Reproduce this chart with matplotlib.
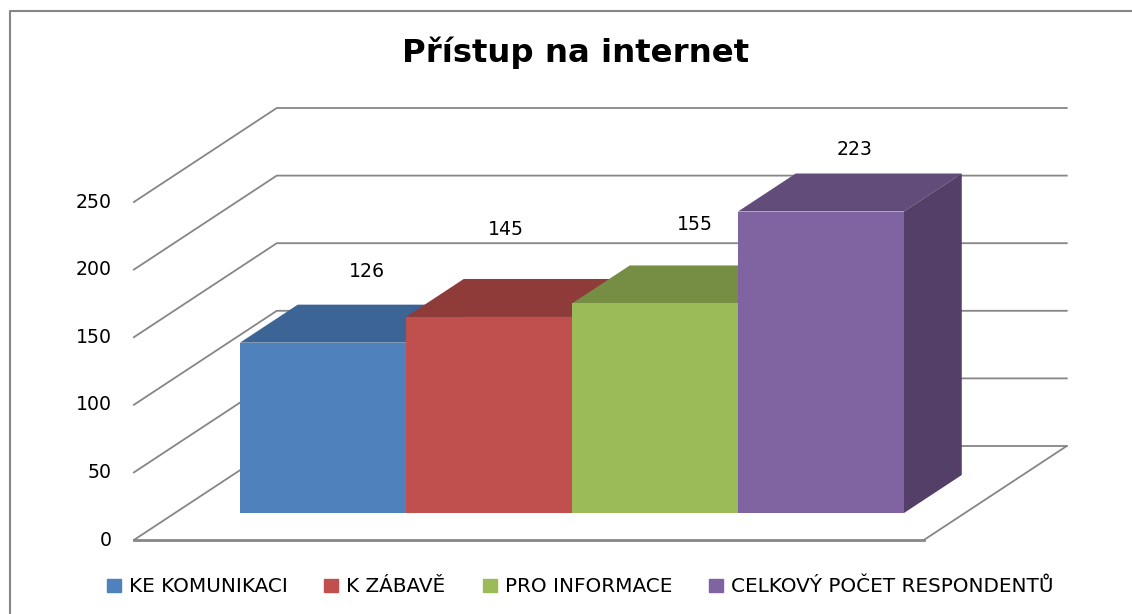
import matplotlib
matplotlib.use('Agg')
import matplotlib.pyplot as plt
from matplotlib.lines import Line2D
from matplotlib.patches import Patch, Polygon

categories = ['KE KOMUNIKACI', 'K ZÁBAVĚ', 'PRO INFORMACE', 'CELKOVÝ POČET RESPONDENTŮ']
values = [126, 145, 155, 223]
y_ticks = [0, 50, 100, 150, 200, 250]

front_colors = ['#4F81BD', '#C0504D', '#9BBB59', '#8064A2']
top_colors = ['#3C6494', '#8F3B39', '#768E43', '#624C7A']
side_colors = ['#3A5C88', '#843634', '#6C8340', '#533F68']
grid_color = '#868686'

# label positions were moved by hand in the original, offsets in pixels
label_offsets = [(44, 71), (17, 87), (40, 79), (34, 62)]

W, H = 1132, 614
BAR_PX = 166.0      # one bar wide
UNIT_PX = 1.352     # pixels per unit of value
X0_PX, Y0_PX = 240.0, 513.0
SLANT = 1.52        # sideways shift per pixel of depth


def point(x, v, d):
    # x in bars, v in value units, d = depth in pixels behind the front of the bars
    return x + d * SLANT / BAR_PX, v + d / UNIT_PX


fig = plt.figure(figsize=(W / 100, H / 100), dpi=100)
ax = fig.add_axes([0, 0, 1, 1])
ax.set_xlim(-X0_PX / BAR_PX, (W - X0_PX) / BAR_PX)
ax.set_ylim((Y0_PX - H) / UNIT_PX, Y0_PX / UNIT_PX)
ax.axis('off')

FLOOR_L, FLOOR_R = -0.392, 4.367
D_FRONT, D_BACK, D_BAR = -27, 67, 38

# walls
for v in y_ticks:
    a = point(FLOOR_L, v, D_FRONT)
    b = point(FLOOR_L, v, D_BACK)
    c = point(FLOOR_R, v, D_BACK)
    ax.plot([a[0], b[0], c[0]], [a[1], b[1], c[1]], color=grid_color, lw=1.3, zorder=1)
    ax.annotate(str(v), a, xytext=(-22, 0), textcoords='offset pixels', ha='right', va='center',
                fontsize=13.6, color='black')

# floor
a = point(FLOOR_L, 0, D_FRONT)
b = point(FLOOR_R, 0, D_FRONT)
c = point(FLOOR_R, 0, D_BACK)
ax.plot([a[0], b[0]], [a[1], b[1]], color=grid_color, lw=2, zorder=1)
ax.plot([b[0], c[0]], [b[1], c[1]], color=grid_color, lw=1.3, zorder=1)

# bars, left to right so the next one covers the hidden faces
for i, val in enumerate(values):
    z = 2 + i
    ax.bar(i, val, width=1, align='edge', color=front_colors[i], zorder=z + 0.5)
    top = [point(i, val, 0), point(i + 1, val, 0), point(i + 1, val, D_BAR), point(i, val, D_BAR)]
    side = [point(i + 1, 0, 0), point(i + 1, val, 0), point(i + 1, val, D_BAR), point(i + 1, 0, D_BAR)]
    ax.add_patch(Polygon(top, closed=True, color=top_colors[i], lw=0, zorder=z))
    ax.add_patch(Polygon(side, closed=True, color=side_colors[i], lw=0, zorder=z))
    ax.annotate(str(val), (i + 0.5, val), xytext=label_offsets[i], textcoords='offset pixels',
                ha='center', va='center', fontsize=13.6, color='black', zorder=10)

fig.text(576 / W, 1 - 53 / H, 'Přístup na internet', ha='center', va='center',
         fontsize=23.3, fontweight='bold', color='black')

handles = [Patch(color=c) for c in front_colors]
ax.legend(handles, categories, loc='center', bbox_to_anchor=(580 / W, 1 - 587 / H), ncol=4,
          frameon=False, fontsize=14.4, handlelength=0.7, handleheight=0.6,
          handletextpad=0.4, columnspacing=1.85, borderpad=0, borderaxespad=0)

# outer frame, only top and left are inside the picture
fig.add_artist(Line2D([9.5 / W, 9.5 / W, 1], [0, 1 - 10.5 / H, 1 - 10.5 / H], color=grid_color, lw=1.5))

fig.savefig('out.png', dpi=100)
